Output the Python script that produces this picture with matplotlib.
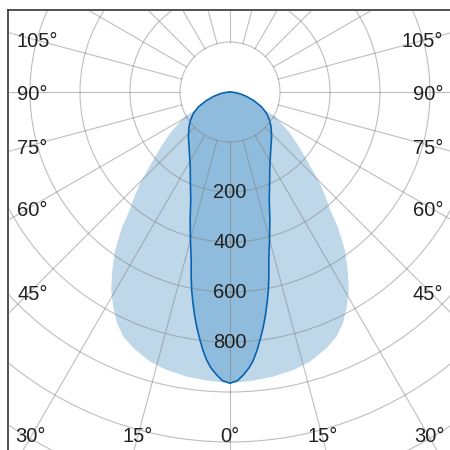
import numpy as np
import matplotlib
matplotlib.use('Agg')
import matplotlib.pyplot as plt
from matplotlib.patches import Rectangle
from matplotlib.lines import Line2D

plt.rcParams['font.family'] = ['Liberation Sans', 'DejaVu Sans']

# light curve (wide plane), half curve from 0 deg outwards, cd
# last point closes the shape through the centre of the diagram
wide_angles = [0, 4.5, 8.5, 13, 16.5, 20.5, 23.5, 26, 28.5, 31, 33.5, 36, 38.5, 40.5, 42.5, 44.5,
               48.5, 52, 55.5, 59, 62, 62]
wide_cd = [965, 958, 952, 940, 925, 896, 868, 830, 779, 723, 653, 582, 495, 415, 364, 313,
           210, 145, 91, 35, 0, -200]

# dark curve (narrow plane), half curve, the tail runs into the hole up to the centre
narrow_angles = [0, 1.5, 2.7, 4, 5, 6, 7, 8, 9, 10, 11, 12, 13, 14, 15, 17.5, 20, 24, 28, 35,
                 43, 50, 55, 60, 65, 70, 75, 80, 85, 90]
narrow_cd = [965, 955, 933, 905, 876, 838, 795, 752, 705, 655, 605, 548, 490, 448, 412, 330, 259, 190,
             139, 84, 44, 14, -8, -32, -62, -98, -132, -160, -184, -200]

ring_labels = [200, 400, 600, 800]
side_labels = [105, 90, 75, 60, 45]
bottom_labels = [30, 15, 0]

W = H = 450
cx, cy = 230, 92      # centre of the diagram in pixels (from top left)
R = 450               # pixel radius for r = 1600
r_origin, r_max = -200, 1600

light = '#bed8ea'
dark = '#8fbcdc'
edge = '#0a63b0'
grid = '#7f7f7f'
txt = '#222222'
fs = 14.5


def mirror(angles, vals):
    a = np.radians(angles)
    v = np.asarray(vals, dtype=float)
    return np.concatenate([-a[::-1], a[1:]]), np.concatenate([v[::-1], v[1:]])


fig = plt.figure(figsize=(W / 100, H / 100), dpi=100)
ax = fig.add_axes([(cx - R) / W, (H - cy - R) / H, 2 * R / W, 2 * R / H], projection='polar')
ax.set_theta_zero_location('S')
ax.set_rorigin(r_origin)
ax.set_rlim(0, r_max)
ax.set_xticks(np.radians(np.arange(0, 360, 15)))
ax.set_yticks(np.arange(200, 1600, 200))
ax.set_xticklabels([])
ax.set_yticklabels([])
ax.tick_params(length=0)
ax.grid(True, color=grid, lw=0.8, alpha=0.5)
for name, sp in ax.spines.items():
    sp.set_visible(False)
# the inner ring (r = 0) is always drawn by matplotlib; style it like the grid
ax.spines['inner'].set_color(grid)
ax.spines['inner'].set_alpha(0.5)
ax.spines['inner'].set_linewidth(0.8)
for gl in ax.xaxis.get_gridlines() + ax.yaxis.get_gridlines():
    gl.set_clip_on(False)

th, r = mirror(wide_angles, wide_cd)
for p in ax.fill(th, r, color=light, lw=0):
    p.set_clip_on(False)

th, r = mirror(narrow_angles, narrow_cd)
for p in ax.fill(th, r, color=dark, lw=0):
    p.set_clip_on(False)
ln, = ax.plot(th, r, color=edge, lw=1.2)
ln.set_clip_on(False)

for v in ring_labels:
    ax.text(0, v, str(v), ha='center', va='center', fontsize=fs, color=txt)

# white margins outside the frame, then the frame itself
fig.add_artist(Rectangle((0, 0), 8 / W, 1, transform=fig.transFigure, color='white', zorder=3))
fig.add_artist(Rectangle((0, 1 - 10 / H), 1, 10 / H, transform=fig.transFigure, color='white', zorder=3))
fig.add_artist(Line2D([8 / W, 8 / W], [0, 1 - 10 / H], transform=fig.transFigure, color='#333333', lw=1.2, zorder=4))
fig.add_artist(Line2D([8 / W, 1], [1 - 10 / H, 1 - 10 / H], transform=fig.transFigure, color='#333333', lw=1.2, zorder=4))

for a in side_labels:
    y = cy + 200 / np.tan(np.radians(a)) + 3
    fig.text(17 / W, 1 - y / H, f'{a}°', ha='left', va='center', fontsize=fs, color=txt, zorder=5)
    fig.text(443 / W, 1 - y / H, f'{a}°', ha='right', va='center', fontsize=fs, color=txt, zorder=5)

for a in bottom_labels:
    dx = (437 - cy) * np.tan(np.radians(a))
    for x in sorted({cx - dx, cx + dx}):
        fig.text(x / W, 1 - 437 / H, f'{a}°', ha='center', va='center', fontsize=fs, color=txt, zorder=5)

fig.savefig('out.png', dpi=100, facecolor='white')
